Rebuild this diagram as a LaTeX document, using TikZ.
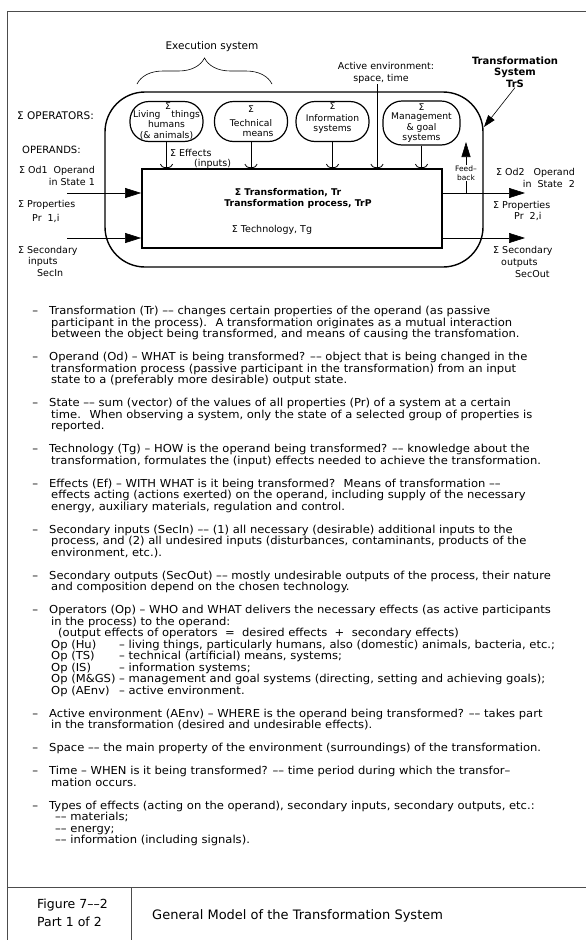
\documentclass[tikz,border=0pt]{standalone}
\usepackage{fontspec}
\setmainfont{DejaVu Sans}
\newfontfamily\bodyfont{DejaVu Sans}[FakeStretch=1.05]
\usetikzlibrary{arrows.meta,positioning,decorations.pathreplacing}
\newcommand{\setfs}[2]{\fontsize{#1}{#2}\selectfont}
\newcommand{\opcol}[1]{\makebox[68pt][l]{#1}}

\begin{document}
\begin{tikzpicture}[x=1pt, y=-1pt,
    every node/.style={inner sep=0pt, font=\setfs{10}{12}},
    frame/.style={line width=0.8pt, draw=black!70},
    opbox/.style={draw, line width=1.2pt, rounded corners=19pt, minimum width=73pt, minimum height=40pt},
    opname/.style={align=center, font=\setfs{9.2}{10.5}},
    side/.style={anchor=north west, align=left, font=\setfs{9.5}{12}},
    para/.style={anchor=north west, align=left, font=\bodyfont\setfs{11}{11.5}},
    trbold/.style={font=\bfseries\setfs{9.3}{11}},
    eff/.style={-{Arc Barb[length=4pt, width=13pt]}, line width=0.8pt},
    flow/.style={-{Triangle[length=16pt, width=10pt]}, line width=0.6pt}
]
    \useasboundingbox (0,0) rectangle (586,940);

    % sheet frame and caption cells
    \draw[frame] (586,11) -- (7,11) -- (7,940);
    \draw[frame] (7,887) -- (586,887);
    \draw[frame] (131,887) -- (131,940);

    % execution system
    \node[font=\setfs{10.5}{12}] (exec) at (212,47) {Execution system};
    \draw[decorate, decoration={brace, amplitude=26pt}, line width=0.6pt] (137,84) -- (272,84);

    % transformation system and process
    \node[draw, line width=1.4pt, rounded corners=40pt, minimum width=378pt, minimum height=175pt] (trs) at (294,179.5) {};
    \node[draw, line width=1.8pt, minimum width=300pt, minimum height=79pt] (tr) at (292,208.5) {};
    \node[trbold] (trname) at (288,193) {Σ Transformation, Tr};
    \node[trbold] (trproc) at (298,204) {Transformation process, TrP};
    \node[font=\setfs{9.5}{11}] (trtech) at (272,230) {Σ Technology, Tg};

    % operators
    \node[opbox, label={[opname]center:{\hspace*{3pt}Σ\\[-3pt]Living\hspace{1.2em}things\\humans\\(\& animals)}}] (liv) at (166.5,121.5) {};
    \node[opbox, label={[opname]center:{Σ\\[3pt]Technical\\\hspace*{14pt}means}}] (tech) at (251,121.5) {};
    \node[opbox, label={[opname, yshift=3pt]center:{Σ\\[1pt]Information\\systems}}] (info) at (332.5,121.5) {};
    \node[opbox, minimum width=77pt, minimum height=44pt, label={[opname]center:{Σ\\[-1pt]Management\\\& goal\\systems}}] (mgmt) at (421.5,123) {};

    \foreach \op in {liv,tech,info,mgmt}
        \draw[eff] (\op.south) -- (\op.south |- tr.north);
    \node[side, font=\setfs{9.5}{10}] (effects) at (170,149.5) {Σ Effects\\\hspace*{24pt}(inputs)};

    % active environment
    \node[align=center, font=\setfs{9.5}{12}] (aenv) at (386,73) {Active environment:\\\hspace*{-10pt}space, time};
    \coordinate (aenvtop) at (377,84);
    \draw[eff] (aenvtop) -- (aenvtop |- tr.north);

    % system label
    \node[align=center, font=\bfseries\setfs{10}{11.5}] (trslbl) at (515,72) {Transformation\\System\\TrS};
    \coordinate (trsedge) at (484,127);
    \draw[-{Triangle[length=12pt, width=8pt]}, line width=0.6pt] (trslbl.south) -- (trsedge);

    % operands in and out
    \coordinate (in1) at (67,193);
    \coordinate (in2) at (67,238);
    \coordinate (out1) at (525,193);
    \coordinate (out2) at (525,238);
    \draw[flow] (in1) -- (in1 -| tr.west);
    \draw[flow] (in2) -- (in2 -| tr.west);
    \draw[flow] (out1 -| tr.east) -- (out1);
    \draw[flow] (out2 -| tr.east) -- (out2);

    % feedback
    \node[align=center, font=\setfs{7.5}{9.5}] (fb) at (466,173) {Feed–\\back};
    \coordinate (fbtip) at (466,142);
    \draw[line width=0.6pt] (fb.south) -- (fb.south |- out1);
    \draw[-{Triangle[length=15pt, width=9pt]}, line width=0.6pt] (fb.north) -- (fbtip);

    % side labels
    \node[side, font=\setfs{10.5}{12}] (oplbl) at (17,112) {Σ OPERATORS:};
    \node[side, font=\setfs{10}{12}] (odlbl) at (22,146) {OPERANDS:};
    \node[side, align=right, anchor=north east] (od1) at (95,166) {Σ Od1 \ Operand\\in State 1};
    \node[side, font=\setfs{9.5}{14}] (pr1) at (18,200) {Σ Properties\\\hspace*{14pt}Pr \ 1,i};
    \node[side, font=\setfs{9.5}{11.5}] (sec1) at (18,246) {Σ Secondary\\\hspace*{10pt}inputs\\\hspace*{19pt}SecIn};
    \node[side, align=right, anchor=north east] (od2) at (575,168) {Σ Od2 \ \ Operand\\in \ State \ 2};
    \node[side, font=\setfs{9.5}{11.5}] (pr2) at (493,201) {Σ Properties\\\hspace*{21pt}Pr \ 2,i};
    \node[side, font=\setfs{9.5}{11.8}] (sec2) at (493,246) {Σ Secondary\\\hspace*{8pt}outputs\\\hspace*{22pt}SecOut};

    % definitions
    \node[para] (ptr) at (49,306) {\llap{–\hspace{11pt}}Transformation (Tr) –– changes certain properties of the operand (as passive\\
        \hspace*{2pt}participant in the process). \ A transformation originates as a mutual interaction\\
        \hspace*{2pt}between the object being transformed, and means of causing the transfomation.};
    \node[para] (pod) at (49,352) {\llap{–\hspace{11pt}}Operand (Od) – WHAT is being transformed? –– object that is being changed in the\\
        \hspace*{2pt}transformation process (passive participant in the transformation) from an input\\
        \hspace*{2pt}state to a (preferably more desirable) output state.};
    \node[para] (pst) at (49,398) {\llap{–\hspace{11pt}}State –– sum (vector) of the values of all properties (Pr) of a system at a certain\\
        \hspace*{2pt}time. \ When observing a system, only the state of a selected group of properties is\\
        \hspace*{2pt}reported.};
    \node[para] (ptg) at (49,444) {\llap{–\hspace{11pt}}Technology (Tg) – HOW is the operand being transformed? –– knowledge about the\\
        \hspace*{2pt}transformation, formulates the (input) effects needed to achieve the transformation.};
    \node[para] (pef) at (49,478.5) {\llap{–\hspace{11pt}}Effects (Ef) – WITH WHAT is it being transformed? \ Means of transformation ––\\
        \hspace*{2pt}effects acting (actions exerted) on the operand, including supply of the necessary\\
        \hspace*{2pt}energy, auxiliary materials, regulation and control.};
    \node[para] (psi) at (49,524.5) {\llap{–\hspace{11pt}}Secondary inputs (SecIn) –– (1) all necessary (desirable) additional inputs to the\\
        \hspace*{2pt}process, and (2) all undesired inputs (disturbances, contaminants, products of the\\
        \hspace*{2pt}environment, etc.).};
    \node[para] (pso) at (49,570.5) {\llap{–\hspace{11pt}}Secondary outputs (SecOut) –– mostly undesirable outputs of the process, their nature\\
        \hspace*{2pt}and composition depend on the chosen technology.};
    \node[para] (pop) at (49,605) {\llap{–\hspace{11pt}}Operators (Op) – WHO and WHAT delivers the necessary effects (as active participants\\
        \hspace*{2pt}in the process) to the operand:\\
        \hspace*{9pt}(output effects of operators \ = \ desired effects \ + \ secondary effects)\\
        \hspace*{2pt}\opcol{Op (Hu)}– living things, particularly humans, also (domestic) animals, bacteria, etc.;\\
        \hspace*{2pt}\opcol{Op (TS)}– technical (artificial) means, systems;\\
        \hspace*{2pt}\opcol{Op (IS)}– information systems;\\
        \hspace*{2pt}\opcol{Op (M\&GS)}– management and goal systems (directing, setting and achieving goals);\\
        \hspace*{2pt}\opcol{Op (AEnv)}– active environment.};
    \node[para] (pae) at (49,708.5) {\llap{–\hspace{11pt}}Active environment (AEnv) – WHERE is the operand being transformed? –– takes part\\
        \hspace*{2pt}in the transformation (desired and undesirable effects).};
    \node[para] (psp) at (49,743) {\llap{–\hspace{11pt}}Space –– the main property of the environment (surroundings) of the transformation.};
    \node[para] (ptm) at (49,766) {\llap{–\hspace{11pt}}Time – WHEN is it being transformed? –– time period during which the transfor–\\
        \hspace*{2pt}mation occurs.};
    \node[para] (pty) at (49,800.5) {\llap{–\hspace{11pt}}Types of effects (acting on the operand), secondary inputs, secondary outputs, etc.:\\
        \hspace*{6pt}–– materials;\\
        \hspace*{6pt}–– energy;\\
        \hspace*{6pt}–– information (including signals).};

    % caption
    \node[anchor=west, font=\setfs{12.5}{14}] (fignum) at (37,905) {Figure 7––2};
    \node[anchor=west, font=\setfs{12.5}{14}] (figpart) at (37,922) {Part 1 of 2};
    \node[anchor=west, font=\setfs{13}{14}] (figtitle) at (152,916) {General Model of the Transformation System};
\end{tikzpicture}
\end{document}
